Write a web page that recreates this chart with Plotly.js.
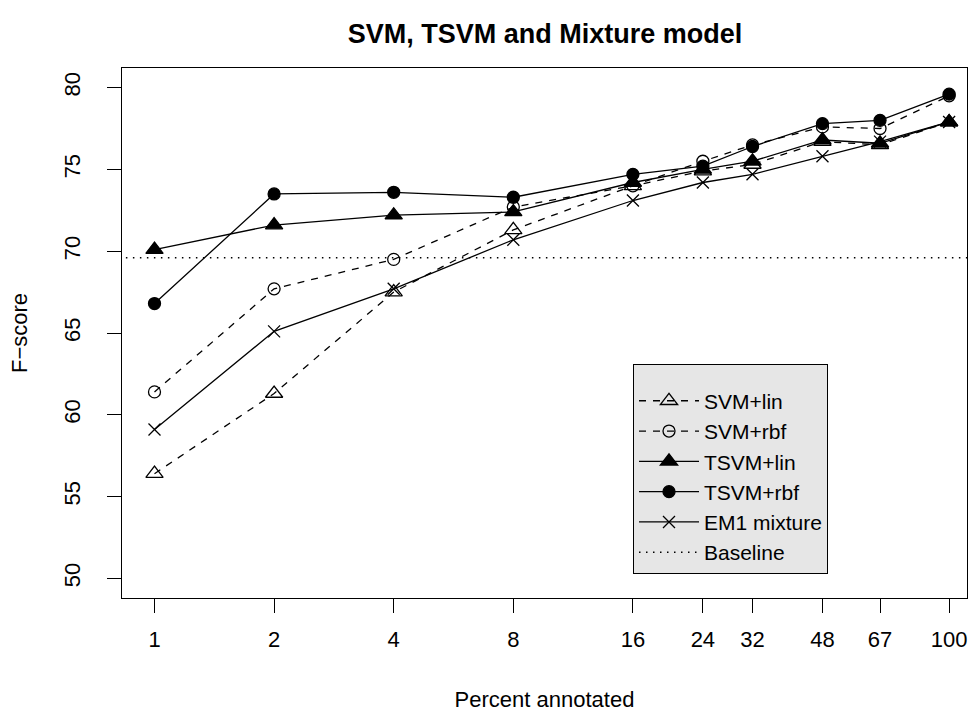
<!DOCTYPE html>
<html>
<head>
<meta charset="utf-8">
<script src="https://cdn.plot.ly/plotly-3.0.1.min.js"></script>
<style>html,body{margin:0;padding:0;background:#fff;}#chart{width:968px;height:713px;}</style>
</head>
<body>
<div id="chart"></div>
<script>
// Data
const percentAnnotated = [1, 2, 4, 8, 16, 24, 32, 48, 67, 100];
const tickLabels = ["1", "2", "4", "8", "16", "24", "32", "48", "67", "100"];
const svmLin  = [56.4, 61.3, 67.5, 71.3, 74.0, 74.9, 75.3, 76.7, 76.5, 77.9];
const svmRbf  = [61.4, 67.7, 69.5, 72.7, 74.0, 75.5, 76.5, 77.6, 77.5, 79.5];
const tsvmLin = [70.1, 71.6, 72.2, 72.4, 74.2, 75.0, 75.5, 76.8, 76.6, 77.9];
const tsvmRbf = [66.8, 73.5, 73.6, 73.3, 74.7, 75.2, 76.4, 77.8, 78.0, 79.6];
const em1     = [59.1, 65.1, 67.7, 70.7, 73.1, 74.2, 74.7, 75.8, 76.7, 77.9];
const baseline = 69.6;
const yTicks = [50, 55, 60, 65, 70, 75, 80];

const FONT = "Liberation Sans, Arial, Helvetica, sans-serif";
const LW = 1.3;

function series(name, y, dash, symbol, size) {
  return {
    type: "scatter", mode: "lines+markers", name: name,
    x: percentAnnotated, y: y,
    line: {color: "black", width: LW, dash: dash},
    marker: {symbol: symbol, size: size, color: "black", line: {color: "black", width: LW}},
    cliponaxis: false
  };
}

const traces = [
  series("SVM+lin", svmLin, "7px,7px", "triangle-up-open", 15),
  series("SVM+rbf", svmRbf, "7px,7px", "circle-open", 12),
  series("TSVM+lin", tsvmLin, "solid", "triangle-up", 15),
  series("TSVM+rbf", tsvmRbf, "solid", "circle", 12),
  series("EM1 mixture", em1, "solid", "x-thin-open", 12),
  {
    type: "scatter", mode: "lines", name: "Baseline",
    x: [percentAnnotated[0] / 2, percentAnnotated[percentAnnotated.length - 1] * 2],
    y: [baseline, baseline],
    line: {color: "black", width: LW, dash: "1.5px,5.5px"}
  }
];

const layout = {
  width: 968, height: 713,
  margin: {l: 122, r: 1, t: 68, b: 115},
  paper_bgcolor: "white", plot_bgcolor: "white",
  font: {family: FONT, size: 22, color: "black"},
  title: {
    text: "<b>SVM, TSVM and Mixture model</b>",
    font: {family: FONT, size: 27, color: "black"},
    x: 545 / 968, xref: "container", xanchor: "center",
    y: 1 - 34 / 713, yref: "container", yanchor: "middle"
  },
  xaxis: {
    type: "log",
    range: [-0.0818, 2.045],
    tickvals: percentAnnotated, ticktext: tickLabels,
    ticks: "outside", ticklen: 14, tickwidth: 1, tickcolor: "black",
    ticklabelstandoff: 8,
    showline: true, linecolor: "black", linewidth: 1, mirror: true,
    showgrid: false, zeroline: false,
    tickfont: {family: FONT, size: 22, color: "black"},
    title: {text: "Percent annotated", font: {family: FONT, size: 22, color: "black"}, standoff: 40}
  },
  yaxis: {
    range: [48.8, 81.2],
    tickvals: yTicks,
    ticks: "outside", ticklen: 14, tickwidth: 1, tickcolor: "black",
    tickangle: -90, ticklabelstandoff: 18,
    showline: true, linecolor: "black", linewidth: 1, mirror: true,
    showgrid: false, zeroline: false,
    tickfont: {family: FONT, size: 22, color: "black"},
    title: {text: "F\u2212score", font: {family: FONT, size: 22, color: "black"}, standoff: 26}
  },
  showlegend: true,
  legend: {
    x: (633 - 122) / 845, y: (598 - 364) / 530,
    xanchor: "left", yanchor: "top",
    bgcolor: "#e6e6e6", bordercolor: "black", borderwidth: 1,
    font: {family: FONT, size: 21, color: "black"},
    title: {text: " ", font: {family: FONT, size: 12}},
    itemwidth: 60,
    entrywidth: 150, entrywidthmode: "pixels",
    traceorder: "normal"
  }
};

Plotly.newPlot("chart", traces, layout, {displayModeBar: false, staticPlot: true});
</script>
</body>
</html>
